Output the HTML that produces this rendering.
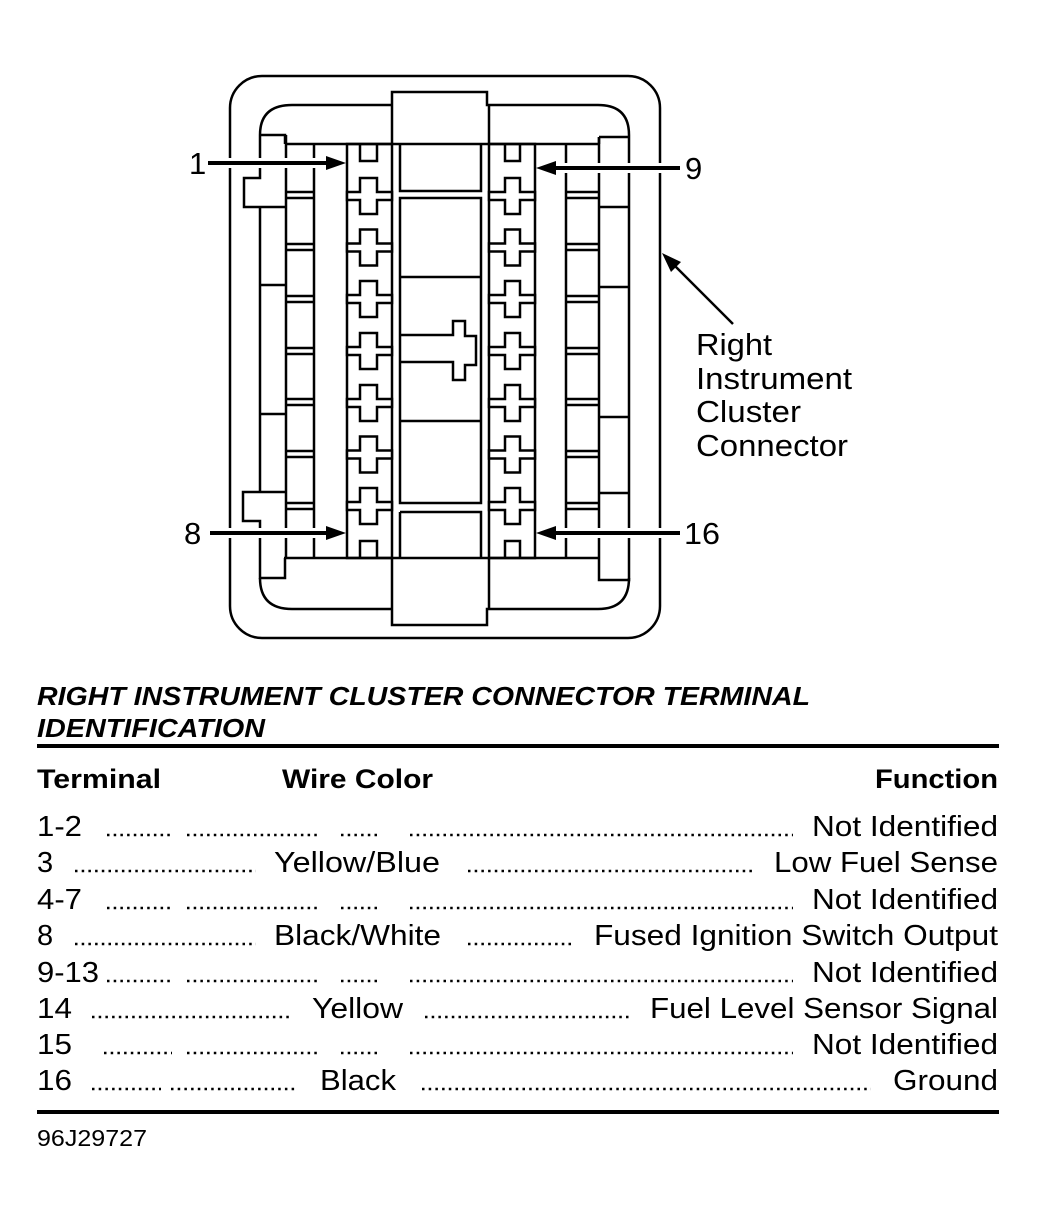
<!DOCTYPE html>
<html><head><meta charset="utf-8"><style>
html,body{margin:0;padding:0;background:#fff;}
svg{display:block;}
text{font-family:"Liberation Sans",sans-serif;fill:#000;}
</style></head><body>
<svg width="1037" height="1222" viewBox="0 0 1037 1222" xmlns="http://www.w3.org/2000/svg">
<defs>
<path id="cl" d="M-21.5,-4 H-8.5 V-18 H8.5 V-4 H23.5 V4 H8.5 V18 H-8.5 V4 H-21.5 Z" fill="#fff" stroke="#000" stroke-width="2.5"/>
<path id="cr" d="M-23.5,-4 H-7.5 V-18 H7.5 V-4 H22.5 V4 H7.5 V18 H-7.5 V4 H-23.5 Z" fill="#fff" stroke="#000" stroke-width="2.5"/>
</defs>
<g fill="none" stroke="#000" stroke-width="2.5">
<rect x="230" y="76" width="430" height="562" rx="32"/>
<path d="M392,105 H292 Q260,105 260,135 M489,105 H598 Q629,105 629,135 M392,609 H292 Q260,609 260,578 M489,609 H598 Q629,609 629,578"/>
<path d="M392,105 V92 H487 V105 H489 M392,609 V625 H487 V609 H489" />
<line x1="392" y1="105" x2="392" y2="144"/><line x1="489" y1="105" x2="489" y2="144"/>
<line x1="392" y1="558" x2="392" y2="609"/><line x1="489" y1="558" x2="489" y2="609"/>
<path d="M260,135 H285 V144 M260,135 V178 H244 V207 H285"/>
<line x1="260" y1="207" x2="260" y2="492"/>
<path d="M285,492 H243 V521 H260 V578 H285 V558"/>
<line x1="260" y1="285" x2="285" y2="285"/><line x1="260" y1="414" x2="285" y2="414"/>
<line x1="286" y1="135" x2="286" y2="558"/>
<line x1="314" y1="144" x2="314" y2="558"/>
<path d="M629,135 V580 H599 V558 M599,137 H629 M599,137 V144"/>
<line x1="599" y1="137" x2="599" y2="558"/>
<line x1="599" y1="207" x2="629" y2="207"/><line x1="599" y1="287" x2="629" y2="287"/>
<line x1="599" y1="417" x2="629" y2="417"/><line x1="599" y1="493" x2="629" y2="493"/>
<line x1="566" y1="144" x2="566" y2="558"/>
<line x1="286" y1="144" x2="600" y2="144"/>
<line x1="284" y1="558" x2="600" y2="558"/>
<path d="M286,192H314M286,198H314M286,244H314M286,250H314M286,296H314M286,302H314M286,348H314M286,354H314M286,399H314M286,405H314M286,451H314M286,457H314M286,503H314M286,509H314"/>
<path d="M566,192H599M566,198H599M566,244H599M566,250H599M566,296H599M566,302H599M566,348H599M566,354H599M566,399H599M566,405H599M566,451H599M566,457H599M566,503H599M566,509H599"/>
<rect x="347" y="144" width="45" height="414"/>
<rect x="489" y="144" width="46" height="414"/>
<path d="M360,144 V161 H377 V144 M360,558 V541 H377 V558"/>
<path d="M505,144 V161 H520 V144 M505,558 V541 H520 V558"/>
<path d="M400,144 V191 H481 V144"/>
<path d="M400,198 H481 V503 H400 Z"/>
<line x1="400" y1="277" x2="481" y2="277"/>
<line x1="400" y1="421" x2="481" y2="421"/>
<path d="M400,335 H453 V321 H465 V336 H476 V365 H465 V380 H453 V362 H400"/>
<path d="M400,512 H481 V558 M400,512 V558"/>
</g>
<g>
<use href="#cl" x="368.5" y="196"/><use href="#cl" x="368.5" y="247.5"/><use href="#cl" x="368.5" y="299"/><use href="#cl" x="368.5" y="351"/><use href="#cl" x="368.5" y="403"/><use href="#cl" x="368.5" y="454.5"/><use href="#cl" x="368.5" y="506"/>
<use href="#cr" x="512.5" y="196"/><use href="#cr" x="512.5" y="247.5"/><use href="#cr" x="512.5" y="299"/><use href="#cr" x="512.5" y="351"/><use href="#cr" x="512.5" y="403"/><use href="#cr" x="512.5" y="454.5"/><use href="#cr" x="512.5" y="506"/>
</g>
<g stroke="#fff" stroke-width="10">
<line x1="208" y1="163" x2="330" y2="163"/><line x1="210" y1="533" x2="330" y2="533"/>
<line x1="680" y1="168" x2="552" y2="168"/><line x1="680" y1="533" x2="552" y2="533"/>
</g>
<g stroke="#000" stroke-width="4">
<line x1="208" y1="163" x2="330" y2="163"/><line x1="210" y1="533" x2="330" y2="533"/>
<line x1="680" y1="168" x2="552" y2="168"/><line x1="680" y1="533" x2="552" y2="533"/>
<line x1="733" y1="324" x2="668" y2="259" stroke-width="2.5"/>
</g>
<g fill="#000">
<path d="M346,163 L326,156 L326,170 Z"/><path d="M346,533 L326,526 L326,540 Z"/>
<path d="M536,168 L556,161 L556,175 Z"/><path d="M536,533 L556,526 L556,540 Z"/>
<path d="M662,253 L681,262 L671,272 Z"/>
</g>
<g font-size="31">
<text x="189" y="174">1</text>
<text x="685" y="179">9</text>
<text x="184" y="544">8</text>
<text x="684" y="544" textLength="36" lengthAdjust="spacingAndGlyphs">16</text>
<text x="696" y="355" textLength="76" lengthAdjust="spacingAndGlyphs">Right</text>
<text x="696" y="389" textLength="156" lengthAdjust="spacingAndGlyphs">Instrument</text>
<text x="696" y="422" textLength="105" lengthAdjust="spacingAndGlyphs">Cluster</text>
<text x="696" y="456" textLength="152" lengthAdjust="spacingAndGlyphs">Connector</text>
</g>
<g font-weight="bold" font-style="italic" font-size="26">
<text x="37" y="705" textLength="773" lengthAdjust="spacingAndGlyphs">RIGHT INSTRUMENT CLUSTER CONNECTOR TERMINAL</text>
<text x="37" y="737" textLength="228" lengthAdjust="spacingAndGlyphs">IDENTIFICATION</text>
</g>
<rect x="37" y="744" width="962" height="4" fill="#000"/>
<g font-weight="bold" font-size="27">
<text x="37" y="788" textLength="124" lengthAdjust="spacingAndGlyphs">Terminal</text>
<text x="282" y="788" textLength="151" lengthAdjust="spacingAndGlyphs">Wire Color</text>
<text x="875" y="788" textLength="123" lengthAdjust="spacingAndGlyphs">Function</text>
</g>
<g font-size="29">
<text x="37" y="836" textLength="45" lengthAdjust="spacingAndGlyphs">1-2</text><text x="812" y="836" textLength="186" lengthAdjust="spacingAndGlyphs">Not Identified</text>
<text x="37" y="872">3</text><text x="274" y="872" textLength="166" lengthAdjust="spacingAndGlyphs">Yellow/Blue</text><text x="774" y="872" textLength="224" lengthAdjust="spacingAndGlyphs">Low Fuel Sense</text>
<text x="37" y="909" textLength="45" lengthAdjust="spacingAndGlyphs">4-7</text><text x="812" y="909" textLength="186" lengthAdjust="spacingAndGlyphs">Not Identified</text>
<text x="37" y="945">8</text><text x="274" y="945" textLength="167" lengthAdjust="spacingAndGlyphs">Black/White</text><text x="594" y="945" textLength="404" lengthAdjust="spacingAndGlyphs">Fused Ignition Switch Output</text>
<text x="37" y="982" textLength="62" lengthAdjust="spacingAndGlyphs">9-13</text><text x="812" y="982" textLength="186" lengthAdjust="spacingAndGlyphs">Not Identified</text>
<text x="37" y="1018" textLength="35" lengthAdjust="spacingAndGlyphs">14</text><text x="312" y="1018" textLength="91" lengthAdjust="spacingAndGlyphs">Yellow</text><text x="650" y="1018" textLength="348" lengthAdjust="spacingAndGlyphs">Fuel Level Sensor Signal</text>
<text x="37" y="1054" textLength="35" lengthAdjust="spacingAndGlyphs">15</text><text x="812" y="1054" textLength="186" lengthAdjust="spacingAndGlyphs">Not Identified</text>
<text x="37" y="1090" textLength="35" lengthAdjust="spacingAndGlyphs">16</text><text x="320" y="1090" textLength="76" lengthAdjust="spacingAndGlyphs">Black</text><text x="893" y="1090" textLength="105" lengthAdjust="spacingAndGlyphs">Ground</text>
</g>
<g stroke="#000" stroke-width="2.5" stroke-dasharray="2.5 4.2">
<path d="M107,835H172M187,835H318M341,835H378M410,835H793"/>
<path d="M75,871H256M468,871H755"/>
<path d="M107,908H172M187,908H318M341,908H378M410,908H793"/>
<path d="M75,944H256M468,944H571"/>
<path d="M107,981H172M187,981H318M341,981H378M410,981H793"/>
<path d="M92,1017H290M425,1017H629"/>
<path d="M104,1053H172M187,1053H318M341,1053H378M410,1053H793"/>
<path d="M92,1089H161M171,1089H298M422,1089H871"/>
</g>
<rect x="37" y="1110" width="962" height="4" fill="#000"/>
<text x="37" y="1146" font-size="23" textLength="110" lengthAdjust="spacingAndGlyphs">96J29727</text>
</svg>
</body></html>
